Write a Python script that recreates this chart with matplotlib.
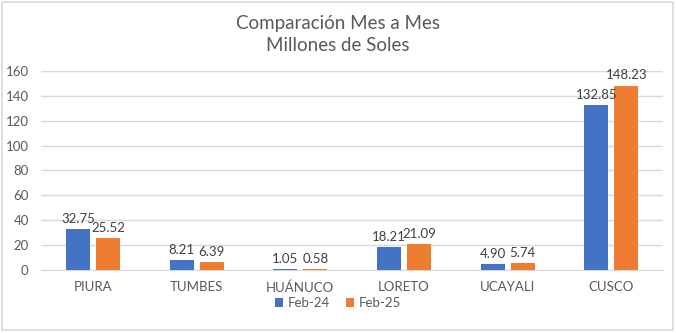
import matplotlib.pyplot as plt
import numpy as np

regiones = ["PIURA", "TUMBES", "HUÁNUCO", "LORETO", "UCAYALI", "CUSCO"]
feb24 = [32.75, 8.21, 1.05, 18.21, 4.90, 132.85]
feb25 = [25.52, 6.39, 0.58, 21.09, 5.74, 148.23]
series = ["Feb-24", "Feb-25"]

plt.rcParams["font.family"] = ["Lato", "DejaVu Sans"]
gris = "#595959"

fig = plt.figure(figsize=(6.76, 3.33), dpi=100)
ax = fig.add_axes([0.061, 0.189, 0.92, 0.598])

x = np.arange(len(regiones))
ancho = 0.23
sep = 0.03
b1 = ax.bar(x - ancho / 2 - sep, feb24, ancho, color="#4472C4", label=series[0], zorder=3)
b2 = ax.bar(x + ancho / 2 + sep, feb25, ancho, color="#ED7D31", label=series[1], zorder=3)

for barras in (b1, b2):
    ax.bar_label(barras, labels=[f"{v:.2f}" for v in barras.datavalues],
                 padding=3, fontsize=9.5, color="#404040")

ax.set_xlim(-0.5, len(regiones) - 0.5)
ax.set_ylim(0, 160)
ax.set_yticks(range(0, 161, 20))
ax.set_xticks(x)
ax.set_xticklabels(regiones)
ax.tick_params(axis="both", length=0, labelsize=9.5, colors=gris)
ax.tick_params(axis="x", pad=8)
ax.tick_params(axis="y", pad=9)
ax.grid(axis="y", color="#D9D9D9", linewidth=1, zorder=0)
for s in ["top", "right", "left"]:
    ax.spines[s].set_visible(False)
ax.spines["bottom"].set_color("#D9D9D9")

fig.text(0.5, 0.93, "Comparación Mes a Mes", ha="center", va="center", fontsize=13.5, color=gris)
fig.text(0.5, 0.862, "Millones de Soles", ha="center", va="center", fontsize=13.5, color=gris)

fig.legend(loc="center", bbox_to_anchor=(0.5, 0.09), ncol=2, frameon=False,
           fontsize=9.5, labelcolor=gris, handlelength=0.6, handleheight=0.6,
           handletextpad=0.4, columnspacing=1.2)

borde = plt.Rectangle((0.003, 0.01), 0.993, 0.985, transform=fig.transFigure,
                      fill=False, edgecolor="#D9D9D9", linewidth=1.2)
fig.patches.append(borde)

fig.savefig("out.png", dpi=100)
